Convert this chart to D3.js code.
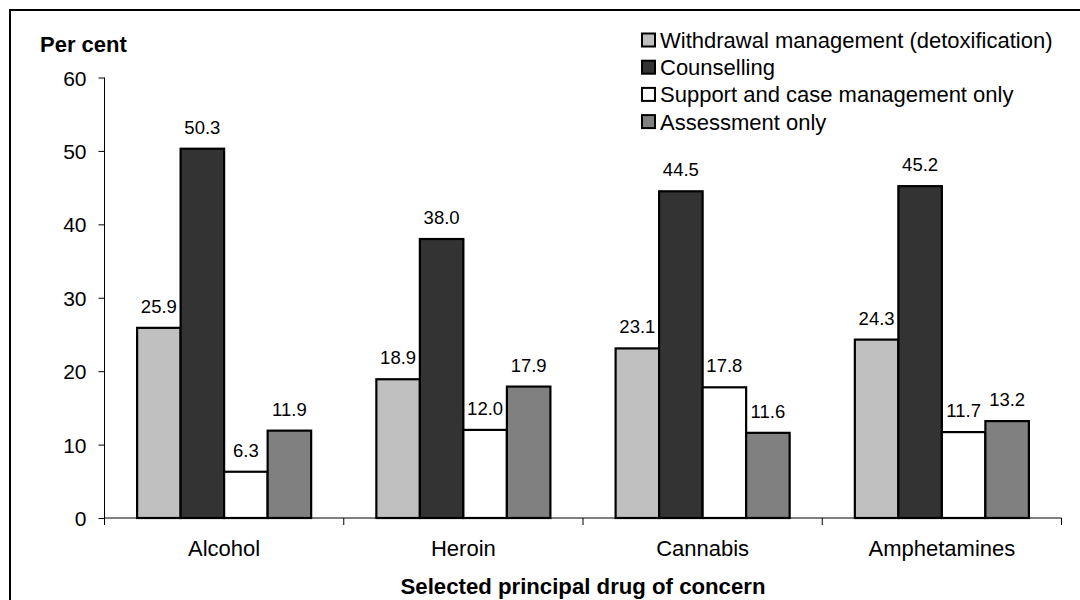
<!DOCTYPE html>
<html>
<head>
<meta charset="utf-8">
<script src="https://cdn.jsdelivr.net/npm/d3@7/dist/d3.min.js"></script>
<style>
  html, body { margin: 0; padding: 0; background: #fff; }
  svg { display: block; }
  text { font-family: "Liberation Sans", Arial, sans-serif; fill: #000; }
</style>
</head>
<body>
<svg id="chart" width="1080" height="600"></svg>
<script>
// Principal drug categories
const categories = ["Alcohol", "Heroin", "Cannabis", "Amphetamines"];

// Treatment types (series)
const seriesNames = [
  "Withdrawal management (detoxification)",
  "Counselling",
  "Support and case management only",
  "Assessment only"
];

// Per cent of episodes, one array per series, in category order
const withdrawal = [25.9, 18.9, 23.1, 24.3];
const counselling = [50.3, 38.0, 44.5, 45.2];
const supportCase = [6.3, 12.0, 17.8, 11.7];
const assessment = [11.9, 17.9, 11.6, 13.2];

const yTicks = [0, 10, 20, 30, 40, 50, 60];

const seriesValues = [withdrawal, counselling, supportCase, assessment];
const seriesFill = ["#c0c0c0", "#333333", "#ffffff", "#808080"];

const svg = d3.select("#chart");

// Outer frame (extends past the right and bottom edges)
svg.append("rect")
  .attr("x", 10).attr("y", 10)
  .attr("width", 1200).attr("height", 800)
  .attr("fill", "none").attr("stroke", "#000").attr("stroke-width", 2);

const plot = { left: 104.5, right: 1061.5, top: 77.5, bottom: 518 };

const y = d3.scaleLinear().domain([0, 60]).range([plot.bottom, plot.top]);
const x0 = d3.scaleBand().domain(categories).range([plot.left, plot.right]).padding(0);
const groupPad = 32.6;
const x1 = d3.scaleBand().domain(d3.range(seriesNames.length))
  .range([groupPad, x0.bandwidth() - groupPad]).padding(0);

// Bars
categories.forEach((cat, ci) => {
  const g = svg.append("g").attr("transform", `translate(${x0(cat)},0)`);
  seriesValues.forEach((vals, si) => {
    const v = vals[ci];
    g.append("rect")
      .attr("x", x1(si))
      .attr("y", y(v))
      .attr("width", x1.bandwidth())
      .attr("height", y(0) - y(v))
      .attr("fill", seriesFill[si])
      .attr("stroke", "#000")
      .attr("stroke-width", 2.2);
    g.append("text")
      .attr("x", x1(si) + x1.bandwidth() / 2)
      .attr("y", y(v) - 15)
      .attr("text-anchor", "middle")
      .style("font-size", "18.5px")
      .text(v.toFixed(1));
  });
});

// Y axis
const yAxis = svg.append("g")
  .attr("transform", `translate(${plot.left},0)`)
  .call(d3.axisLeft(y).tickValues(yTicks).tickSize(6).tickPadding(12).tickFormat(d3.format("d")));
yAxis.select(".domain").remove();
yAxis.selectAll(".tick line").attr("stroke", "#000");
yAxis.selectAll(".tick text")
  .style("font-size", "21px")
  .attr("font-family", null)
  .attr("dy", "0.36em");
svg.append("line")
  .attr("x1", plot.left).attr("x2", plot.left)
  .attr("y1", plot.top).attr("y2", plot.bottom + 7)
  .attr("stroke", "#000").attr("stroke-width", 1);

// X axis: baseline with ticks at category boundaries
svg.append("line")
  .attr("x1", plot.left).attr("x2", plot.right)
  .attr("y1", plot.bottom).attr("y2", plot.bottom)
  .attr("stroke", "#000").attr("stroke-width", 1);
const boundaries = categories.map(c => x0(c)).concat([x0(categories[categories.length - 1]) + x0.bandwidth()]);
svg.selectAll(".xtick").data(boundaries).enter().append("line")
  .attr("x1", d => d).attr("x2", d => d)
  .attr("y1", plot.bottom).attr("y2", plot.bottom + 7)
  .attr("stroke", "#000").attr("stroke-width", 1);

svg.selectAll(".xlabel").data(categories).enter().append("text")
  .attr("x", d => x0(d) + x0.bandwidth() / 2)
  .attr("y", 556)
  .attr("text-anchor", "middle")
  .style("font-size", "22px")
  .text(d => d);

// Axis titles
svg.append("text")
  .attr("x", 40).attr("y", 52)
  .style("font-size", "22px").style("font-weight", "bold")
  .text("Per cent");
svg.append("text")
  .attr("x", (plot.left + plot.right) / 2).attr("y", 594)
  .attr("text-anchor", "middle")
  .style("font-size", "22.2px").style("font-weight", "bold")
  .text("Selected principal drug of concern");

// Legend
const legend = svg.append("g").attr("transform", "translate(641,40)");
seriesNames.forEach((name, i) => {
  const row = legend.append("g").attr("transform", `translate(0,${i * 27.2})`);
  row.append("rect")
    .attr("x", 1).attr("y", -6.5)
    .attr("width", 13).attr("height", 13)
    .attr("fill", seriesFill[i])
    .attr("stroke", "#000").attr("stroke-width", 2);
  row.append("text")
    .attr("x", 19).attr("y", 0)
    .attr("dy", "0.36em")
    .style("font-size", "22px")
    .text(name);
});
</script>
</body>
</html>
